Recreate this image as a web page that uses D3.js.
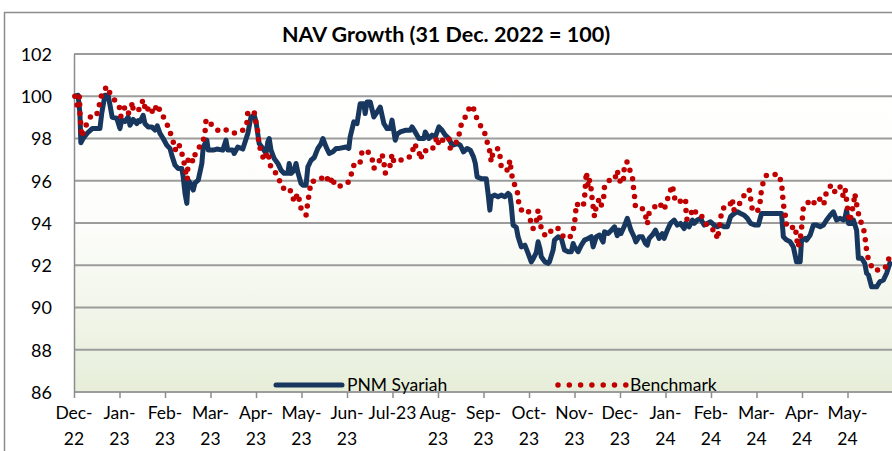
<!DOCTYPE html>
<html>
<head>
<meta charset="utf-8">
<title>NAV Growth</title>
<script src="https://cdn.jsdelivr.net/npm/d3@7"></script>
<style>
  body { margin: 0; background: #fff; }
  text { font-family: Lato, "Open Sans", sans-serif; fill: #000; }
</style>
</head>
<body>
<div id="chart"></div>
<script>
// time is in months counted from the Dec-22 tick, values are NAV index (31 Dec 2022 = 100)
var pnmT = [0.02,0.09,0.13,0.15,0.20,0.29,0.40,0.57,0.61,0.68,0.75,0.79,0.84,0.94,1.01,1.05,1.12,1.19,1.23,1.30,1.38,1.41,1.45,1.52,1.56,1.63,1.71,1.78,1.83,1.89,1.96,2.04,2.11,2.15,2.22,2.29,2.37,2.40,2.44,2.48,2.51,2.55,2.62,2.66,2.73,2.81,2.84,2.92,2.95,3.06,3.14,3.27,3.34,3.38,3.49,3.52,3.60,3.71,3.82,3.89,3.96,4.00,4.07,4.15,4.22,4.26,4.29,4.33,4.40,4.48,4.55,4.62,4.70,4.73,4.77,4.84,4.88,4.92,4.99,5.03,5.10,5.14,5.21,5.28,5.36,5.43,5.47,5.54,5.61,5.69,5.76,5.83,5.98,6.04,6.07,6.15,6.22,6.29,6.37,6.40,6.44,6.51,6.59,6.66,6.73,6.81,6.88,6.95,6.99,7.06,7.10,7.17,7.28,7.39,7.43,7.50,7.58,7.69,7.72,7.80,7.87,7.94,8.02,8.09,8.16,8.24,8.31,8.42,8.49,8.56,8.64,8.71,8.78,8.82,8.86,8.95,9.06,9.10,9.14,9.17,9.25,9.32,9.39,9.47,9.54,9.58,9.61,9.65,9.72,9.76,9.83,9.91,9.98,10.05,10.09,10.16,10.20,10.24,10.27,10.35,10.42,10.45,10.53,10.56,10.64,10.71,10.78,10.86,10.93,10.97,11.00,11.08,11.15,11.22,11.30,11.37,11.41,11.48,11.55,11.63,11.66,11.74,11.81,11.88,11.94,11.98,12.02,12.09,12.16,12.24,12.31,12.35,12.42,12.49,12.56,12.60,12.64,12.71,12.78,12.86,12.93,12.97,13.04,13.11,13.19,13.26,13.33,13.41,13.44,13.52,13.59,13.63,13.70,13.77,13.85,13.92,13.99,14.07,14.14,14.21,14.29,14.36,14.43,14.51,14.58,14.65,14.73,14.80,14.87,14.97,15.04,15.11,15.19,15.55,15.59,15.66,15.74,15.81,15.88,15.96,15.99,16.07,16.10,16.18,16.25,16.32,16.40,16.47,16.54,16.62,16.69,16.76,16.84,16.91,16.95,16.98,17.02,17.09,17.13,17.20,17.24,17.31,17.38,17.42,17.46,17.53,17.64,17.71,17.79,17.86,17.93];
var pnmNav = [100.0,100.05,99.2,97.8,98.0,98.25,98.47,98.47,99.2,100.05,100.05,99.6,99.0,98.96,98.47,98.87,98.8,99.02,98.63,98.9,98.7,98.85,98.8,99.1,98.7,98.55,98.55,98.4,98.6,98.24,98.0,97.68,97.53,97.2,96.74,96.58,96.58,96.18,95.4,94.93,96.03,95.9,95.56,95.9,96.03,96.82,97.6,97.92,97.45,97.45,97.5,97.45,97.92,97.45,97.45,97.29,97.6,97.5,98.24,99.02,99.1,98.8,97.76,97.53,97.3,97.84,98.0,97.45,97.05,96.82,96.5,96.35,96.35,96.82,96.35,96.5,96.82,96.4,95.87,95.79,95.79,96.66,96.97,97.1,97.53,97.76,98.0,97.6,97.29,97.37,97.53,97.53,97.6,97.53,98.08,98.79,98.7,99.65,99.65,99.18,99.73,99.73,99.02,99.25,99.49,98.71,98.47,98.47,98.87,97.92,98.2,98.31,98.39,98.39,98.55,98.3,98.0,98.0,98.31,98.0,98.16,98.08,98.55,98.39,98.16,98.0,97.68,97.76,97.68,97.37,97.53,97.45,97.13,96.82,96.18,96.1,96.1,95.4,94.61,95.24,95.32,95.24,95.32,95.24,95.4,95.32,94.85,93.9,93.8,93.35,92.87,92.95,92.56,92.16,92.3,92.6,93.11,92.8,92.4,92.16,92.09,92.16,92.72,93.19,93.35,93.27,92.72,92.64,92.64,93.03,92.87,92.64,92.95,93.19,93.27,93.35,92.87,93.35,93.43,93.1,93.58,93.5,93.66,93.82,93.4,93.66,93.5,93.82,94.22,93.66,93.35,93.11,93.35,93.35,93.03,92.95,93.27,93.43,93.66,93.27,93.5,93.27,93.66,93.98,94.14,93.9,93.98,93.74,93.98,93.82,94.14,93.98,94.14,94.22,93.9,93.98,94.06,93.9,93.82,93.9,93.82,93.82,94.3,94.45,94.53,94.45,94.37,94.22,93.98,93.9,93.9,94.45,94.45,94.45,93.35,93.2,93.11,92.87,92.16,92.16,93.19,93.27,93.19,93.43,93.9,93.9,93.82,93.9,94.14,94.37,94.53,94.14,94.22,94.14,94.3,94.61,93.98,93.98,94.14,93.66,92.33,92.33,92.09,91.62,91.54,90.98,90.98,91.22,91.3,91.62,92.09];

var bmT = [0.02,0.07,0.12,0.13,0.15,0.17,0.20,0.29,0.39,0.50,0.56,0.61,0.72,0.81,0.94,1.01,1.03,1.12,1.19,1.23,1.29,1.30,1.43,1.52,1.58,1.67,1.74,1.83,1.91,2.02,2.09,2.17,2.22,2.30,2.40,2.44,2.49,2.51,2.56,2.62,2.68,2.83,2.88,2.90,2.95,3.05,3.16,3.30,3.41,3.56,3.71,3.80,3.82,3.96,4.00,4.04,4.06,4.11,4.18,4.26,4.33,4.44,4.51,4.59,4.70,4.77,4.84,4.92,4.99,5.10,5.14,5.21,5.39,5.54,5.61,5.69,5.72,5.87,6.04,6.11,6.17,6.29,6.33,6.44,6.55,6.59,6.70,6.77,6.81,6.84,6.95,6.99,7.03,7.14,7.28,7.43,7.47,7.58,7.61,7.69,7.81,7.91,7.98,8.02,8.16,8.24,8.27,8.38,8.45,8.49,8.56,8.64,8.71,8.78,8.86,8.95,9.02,9.08,9.14,9.17,9.21,9.32,9.38,9.39,9.54,9.58,9.61,9.65,9.74,9.76,9.83,9.91,9.98,10.02,10.05,10.09,10.16,10.20,10.24,10.27,10.35,10.43,10.51,10.64,10.71,10.78,10.93,10.99,11.02,11.04,11.11,11.19,11.22,11.26,11.30,11.33,11.37,11.39,11.44,11.48,11.55,11.59,11.65,11.66,11.77,11.88,11.94,11.98,12.07,12.10,12.16,12.20,12.27,12.29,12.32,12.34,12.49,12.56,12.60,12.64,12.75,12.86,12.97,13.00,13.08,13.15,13.19,13.22,13.30,13.44,13.45,13.47,13.55,13.59,13.69,13.77,13.85,13.99,14.10,14.14,14.18,14.21,14.25,14.40,14.47,14.49,14.58,14.69,14.84,14.87,14.91,15.02,15.08,15.11,15.15,15.22,15.48,15.55,15.57,15.59,15.63,15.66,15.74,15.85,15.88,15.91,15.96,15.99,16.01,16.03,16.10,16.14,16.25,16.29,16.45,16.48,16.53,16.62,16.67,16.73,16.84,16.91,16.95,16.98,17.01,17.05,17.09,17.14,17.16,17.20,17.24,17.31,17.38,17.40,17.42,17.46,17.57,17.75,17.86,17.93];
var bmNav = [100.0,99.57,100.0,99.18,98.63,98.08,98.31,98.74,99.13,99.13,99.62,100.09,100.47,100.05,99.68,99.42,99.05,99.49,99.18,99.29,99.73,99.3,99.37,99.84,99.26,99.53,99.18,99.62,99.21,98.82,98.42,97.95,97.45,97.76,97.08,96.58,96.06,97.08,97.13,96.89,97.4,97.79,98.31,98.83,98.9,98.55,98.39,98.47,98.31,98.24,98.39,98.74,99.26,99.26,98.74,98.31,97.79,97.37,96.97,97.37,96.58,96.35,96.03,95.64,95.71,95.48,95.0,95.4,94.69,94.37,95.0,95.95,96.03,96.26,95.87,96.18,95.79,95.74,95.95,96.42,96.89,96.89,97.37,97.45,97.05,96.58,96.89,97.26,96.89,96.35,96.74,97.26,96.89,96.97,97.0,97.21,97.76,97.45,97.0,97.45,97.37,97.6,98.08,97.68,98.08,98.0,97.53,97.76,98.0,98.55,98.87,99.18,99.57,99.42,98.9,98.55,98.31,97.84,97.37,96.89,97.37,97.53,97.0,96.58,96.5,96.97,96.42,95.95,95.59,95.08,94.61,94.69,94.61,94.33,93.82,93.74,94.06,94.61,94.22,93.7,93.43,93.4,93.74,93.74,93.51,93.27,93.38,93.82,94.37,94.93,94.8,94.77,95.16,96.42,95.71,96.03,95.56,95.08,94.3,94.85,95.16,94.85,95.32,95.79,96.03,96.03,96.5,96.03,95.87,96.82,96.89,96.58,96.26,95.79,95.24,94.74,94.69,94.37,93.95,94.48,94.74,94.96,94.61,94.85,95.37,95.79,95.32,95.0,95.0,95.16,94.61,94.17,94.26,94.69,94.45,94.45,94.06,93.7,93.66,93.22,93.74,94.22,94.69,94.77,95.16,94.61,94.69,95.21,95.59,95.16,94.61,94.53,95.0,95.56,95.95,96.26,96.31,95.9,95.4,94.89,94.42,93.85,93.74,93.85,93.35,92.85,93.22,93.74,94.26,94.74,94.8,95.0,94.85,95.16,95.11,94.89,95.4,95.74,95.79,95.43,95.71,95.24,95.56,95.08,94.53,94.06,94.45,95.0,95.4,94.89,94.45,93.95,93.51,93.0,92.72,92.25,91.77,91.77,91.96,92.48];

var monthLabels = [["Dec-","22"],["Jan-","23"],["Feb-","23"],["Mar-","23"],["Apr-","23"],["May-","23"],["Jun-","23"],["Jul-23"],["Aug-","23"],["Sep-","23"],["Oct-","23"],["Nov-","23"],["Dec-","23"],["Jan-","24"],["Feb-","24"],["Mar-","24"],["Apr-","24"],["May-","24"]];
var yTicks = [86, 88, 90, 92, 94, 96, 98, 100, 102];
var seriesNames = ["PNM Syariah", "Benchmark"];

var W = 892, H = 451;
var plot = {left: 74, right: 893, top: 54, bottom: 392};

var svg = d3.select("#chart").append("svg")
    .attr("width", W)
    .attr("height", H);

var x = d3.scaleLinear().domain([0, 18]).range([plot.left, plot.right]);
var y = d3.scaleLinear().domain([86, 102]).range([plot.bottom, plot.top]);

// plot area fill: white on top, pale green towards the bottom
var grad = svg.append("defs").append("linearGradient")
    .attr("id", "bg").attr("x1", 0).attr("y1", 0).attr("x2", 0).attr("y2", 1);
grad.append("stop").attr("offset", "0").attr("stop-color", "#ffffff");
grad.append("stop").attr("offset", "0.5").attr("stop-color", "#fdfdfb");
grad.append("stop").attr("offset", "1").attr("stop-color", "#e6eed9");

// outer chart border
svg.append("rect")
    .attr("x", 4.5).attr("y", 12.5)
    .attr("width", 1000).attr("height", 1000)
    .attr("fill", "none").attr("stroke", "#8c8c8c").attr("stroke-width", 1.5);

svg.append("rect")
    .attr("x", plot.left).attr("y", plot.top)
    .attr("width", plot.right - plot.left).attr("height", plot.bottom - plot.top)
    .attr("fill", "url(#bg)");

// gridlines
svg.append("g").selectAll("line").data(yTicks).join("line")
    .attr("x1", plot.left).attr("x2", plot.right)
    .attr("y1", d => y(d)).attr("y2", d => y(d))
    .attr("stroke", "#9c9c9c").attr("stroke-width", 2);

// y axis
var yAxis = svg.append("g")
    .attr("transform", "translate(" + plot.left + ",0)")
    .call(d3.axisLeft(y).tickValues(yTicks).tickSize(0).tickPadding(22));
yAxis.select(".domain").attr("stroke", "#8c8c8c").attr("stroke-width", 1.5);
yAxis.selectAll("text")
    .style("font-family", "Lato, sans-serif")
    .style("font-size", "18px")
    .attr("dy", "0.36em");

// x axis: month ticks, labels wrapped like the original
var months = d3.range(monthLabels.length);
var xAxis = svg.append("g")
    .attr("transform", "translate(0," + plot.bottom + ")")
    .call(d3.axisBottom(x).tickValues(months).tickSize(6).tickFormat(""));
xAxis.select(".domain").remove();
xAxis.selectAll("line").attr("stroke", "#8c8c8c").attr("stroke-width", 1.5);

var lab = svg.append("g").selectAll("text").data(months).join("text")
    .attr("x", d => x(d))
    .attr("y", plot.bottom + 27)
    .attr("text-anchor", "middle")
    .style("font-size", "17.5px");
lab.selectAll("tspan").data(d => monthLabels[d]).join("tspan")
    .attr("x", function() { return d3.select(this.parentNode).attr("x"); })
    .attr("dy", (d, i) => i ? 26 : 0)
    .text(d => d);

// series
var pnm = pnmT.map((t, i) => [t, pnmNav[i]]);
var bm = bmT.map((t, i) => [t, bmNav[i]]);
var line = d3.line().x(d => x(d[0])).y(d => y(d[1]));

svg.append("path")
    .datum(pnm)
    .attr("fill", "none")
    .attr("stroke", "#17375e")
    .attr("stroke-width", 5)
    .attr("stroke-linejoin", "round")
    .attr("stroke-linecap", "round")
    .attr("d", line);

svg.append("path")
    .datum(bm)
    .attr("fill", "none")
    .attr("stroke", "#c00000")
    .attr("stroke-width", 5.5)
    .attr("stroke-linecap", "round")
    .attr("stroke-dasharray", "0 9")
    .attr("d", line);

// legend
var leg = svg.append("g");
leg.append("line")
    .attr("x1", 276).attr("x2", 342).attr("y1", 385).attr("y2", 385)
    .attr("stroke", "#17375e").attr("stroke-width", 5).attr("stroke-linecap", "round");
leg.append("text").attr("x", 347).attr("y", 391).style("font-size", "17.5px").text(seriesNames[0]);
leg.append("line")
    .attr("x1", 558).attr("x2", 626).attr("y1", 385).attr("y2", 385)
    .attr("stroke", "#c00000").attr("stroke-width", 5.5)
    .attr("stroke-linecap", "round").attr("stroke-dasharray", "0 11.3");
leg.append("text").attr("x", 630).attr("y", 391).style("font-size", "17.5px").text(seriesNames[1]);

// title
svg.append("text")
    .attr("x", 446).attr("y", 42)
    .attr("text-anchor", "middle")
    .style("font-size", "21.5px")
    .style("font-weight", "bold")
    .text("NAV Growth (31 Dec. 2022 = 100)");
</script>
</body>
</html>
